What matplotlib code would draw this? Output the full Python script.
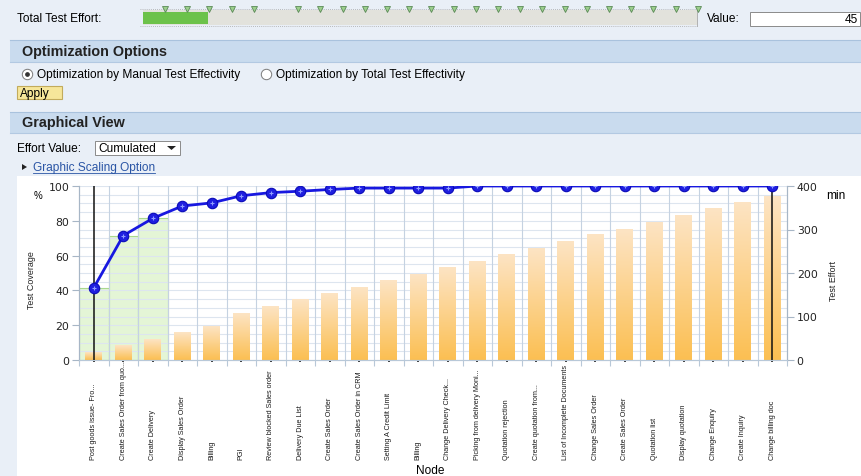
import numpy as np
import matplotlib
matplotlib.use('Agg')
import matplotlib.pyplot as plt
from matplotlib.patches import Rectangle, Polygon
from matplotlib.lines import Line2D
from matplotlib.colors import LinearSegmentedColormap

# chart data
nodes = ['Post goods issue- Fro...', 'Create Sales Order from quo...', 'Create Delivery',
         'Display Sales Order', 'Billing', 'PGI', 'Review blocked Sales order',
         'Delivery Due List', 'Create Sales Order', 'Create Sales Order in CRM',
         'Setting A Credit Limit', 'Billing', 'Change Delivery Check...',
         'Picking from delivery Moni...', 'Quotation rejection', 'Create quotation from...',
         'List of Incomplete Documents', 'Change Sales Order', 'Create Sales Order',
         'Quotation list', 'Display quotation', 'Change Enquiry', 'Create Inquiry',
         'Change billing doc']
coverage = [41.5, 71.5, 81.4, 88.5, 90.3, 94.4, 96.2, 97.0, 98.0, 98.8, 98.8, 98.8,
            98.8, 100, 100, 100, 100, 100, 100, 100, 100, 100, 100, 100]
effort = [17, 33, 48, 64, 77, 108, 124, 138, 152, 167, 182, 197, 213, 227, 242, 257,
          273, 288, 300, 317, 332, 348, 362, 376]
n_selected = 3          # nodes inside the green (selected) range
marked = [0, 23]        # nodes with black marker lines
effort_value = '45'

W, H = 861, 477
def fx(x):
    return x / W
def fy(y):
    return 1 - y / H

UI = ['Liberation Sans', 'DejaVu Sans']
FS = 8.6

fig = plt.figure(figsize=(W / 100, H / 100), dpi=100, facecolor='#e9eff7')

# chart panel (behind the axes)
fig.add_artist(Rectangle((fx(17), 0), 1 - fx(17), fy(177), transform=fig.transFigure,
                         fc='white', ec='none', zorder=-10))

# ---- header: slider row
fig.text(fx(17), fy(19), 'Total Test Effort:', fontsize=FS, family=UI, va='center')
fig.add_artist(Rectangle((fx(143), fy(26)), fx(697) - fx(143), fy(11) - fy(26),
                         transform=fig.transFigure, fc='#e2e2dc', ec='none'))
fig.add_artist(Rectangle((fx(143), fy(25)), fx(208) - fx(143), fy(13) - fy(25),
                         transform=fig.transFigure, fc='#6cc24a', ec='none'))
for yy in (10, 27):
    fig.add_artist(Line2D([fx(140), fx(697)], [fy(yy), fy(yy)], transform=fig.transFigure,
                          color='#a8a8a8', lw=0.6, ls=(0, (1, 1.5))))
fig.add_artist(Line2D([fx(697), fx(697)], [fy(10), fy(27)], transform=fig.transFigure,
                      color='#a8a8a8', lw=0.6))
stops = [x for x in np.arange(165, 700, 22.2) if abs(x - 276) > 5]
fig.add_artist(Line2D([fx(x) for x in stops], [fy(10)] * len(stops),
                      transform=fig.transFigure, ls='', marker='v', ms=4,
                      mfc='#9ccf8c', mec='#5b8a58', mew=0.6))
fig.text(fx(707), fy(19), 'Value:', fontsize=FS, family=UI, va='center')
fig.add_artist(Rectangle((fx(750), fy(27)), fx(860) - fx(750), fy(13) - fy(27),
                         transform=fig.transFigure, fc='white', ec='#8a8a8a', lw=0.7))
fig.text(fx(858), fy(20), effort_value, fontsize=FS, family=UI, va='center', ha='right')

# ---- section bars
for top, bot, title in [(41, 63, 'Optimization Options'), (113, 134, 'Graphical View')]:
    fig.add_artist(Rectangle((fx(10), fy(bot)), 1 - fx(10), fy(top) - fy(bot),
                             transform=fig.transFigure, fc='#c9dbee', ec='none'))
    for yy, c in [(top, '#a9c2dd'), (bot, '#b3c9e2')]:
        fig.add_artist(Line2D([fx(10), 1], [fy(yy), fy(yy)], transform=fig.transFigure,
                              color=c, lw=0.8))
    fig.text(fx(22), fy((top + bot) / 2), title, fontsize=10.4, family=UI,
             fontweight='bold', va='center', color='#222222')

# radio buttons
for cx, label, sel in [(27, 'Optimization by Manual Test Effectivity', True),
                       (266, 'Optimization by Total Test Effectivity', False)]:
    fig.add_artist(Line2D([fx(cx)], [fy(75)], transform=fig.transFigure, ls='',
                          marker='o', ms=7.5, mfc='white', mec='#7a7a7a', mew=0.7))
    if sel:
        fig.add_artist(Line2D([fx(cx)], [fy(75)], transform=fig.transFigure, ls='',
                              marker='o', ms=2.4, mfc='#333333', mec='#333333'))
    fig.text(fx(cx + 10), fy(75), label, fontsize=FS, family=UI, va='center')

fig.add_artist(Rectangle((fx(17), fy(100)), fx(62) - fx(17), fy(87) - fy(100),
                         transform=fig.transFigure, fc='#f6e69a', ec='#c2ab5c', lw=0.8))
fig.text(fx(20), fy(93.5), 'Apply', fontsize=FS, family=UI, va='center')

fig.text(fx(17), fy(149), 'Effort Value:', fontsize=FS, family=UI, va='center')
fig.add_artist(Rectangle((fx(95), fy(156)), fx(180) - fx(95), fy(142) - fy(156),
                         transform=fig.transFigure, fc='white', ec='#8a8a8a', lw=0.7))
fig.text(fx(98), fy(149), 'Cumulated', fontsize=FS, family=UI, va='center')
fig.add_artist(Polygon([(fx(167), fy(147)), (fx(176), fy(147)), (fx(171.5), fy(151))],
                       transform=fig.transFigure, fc='#222222', ec='none'))
fig.add_artist(Polygon([(fx(22), fy(165)), (fx(22), fy(171)), (fx(27), fy(168))],
                       transform=fig.transFigure, fc='#222222', ec='none'))
fig.text(fx(33), fy(168), 'Graphic Scaling Option', fontsize=FS, family=UI, va='center',
         color='#2a55a5')
fig.add_artist(Line2D([fx(33), fx(155)], [fy(173.5), fy(173.5)], transform=fig.transFigure,
                      color='#2a55a5', lw=0.6))

# ---- chart
x = np.arange(len(nodes))
ax = fig.add_axes([fx(79), fy(361), fx(787) - fx(79), fy(187) - fy(361)])  # effort (right)
axc = ax.twinx()                                                         # coverage (left)
ax.yaxis.tick_right()
ax.yaxis.set_label_position('right')
axc.yaxis.tick_left()
ax.set_facecolor('white')

ax.set_xlim(-0.5, len(nodes) - 0.5)
ax.set_ylim(0, 400)
axc.set_ylim(0, 100)

# grid
for yy in np.arange(20, 401, 20):
    ax.axhline(yy, color='#dde5ef', lw=0.8, zorder=0.8)
for b in np.arange(0.5, len(nodes) - 0.5, 1):
    ax.axvline(b, color='#c5d2e1', lw=0.8, zorder=0.9)

# selected range (green), drawn in coverage units underneath the bars
ax.bar(x[:n_selected], coverage[:n_selected], width=1.0, color='#e4f5d6',
       edgecolor='#a9d98f', lw=0.8, zorder=0.7, transform=axc.transData)

# gradient bars
cmap = LinearSegmentedColormap.from_list('bar', ['#fbbf52', '#fde4c4'])
grad = np.linspace(0, 1, 256).reshape(-1, 1)
bars = ax.bar(x, effort, width=0.57, color='none', zorder=2)
for bar in bars:
    x0, w, h = bar.get_x(), bar.get_width(), bar.get_height()
    ax.imshow(grad, extent=[x0, x0 + w, 0, h], origin='lower', cmap=cmap,
              aspect='auto', zorder=2)
ax.set_xlim(-0.5, len(nodes) - 0.5)
ax.set_ylim(0, 400)

# marker lines and coverage line
for m in marked:
    axc.axvline(m, color='#111111', lw=1.1, zorder=3)
axc.plot(x, coverage, color='#1818e0', lw=2, marker='o', ms=7.5, mfc='#1f1fe0',
         mec='#0a0ab8', mew=0.8, zorder=4)
axc.plot(x, coverage, ls='', marker='+', ms=3.5, color='#8f9cff', mew=0.8, zorder=5)

# axes styling
for a in (ax, axc):
    a.spines['top'].set_visible(False)
    a.spines['left'].set_color('#a7b6c6')
    a.spines['right'].set_color('#a7b6c6')
    a.spines['bottom'].set_color('#b8c8d8')
axc.set_yticks(np.arange(0, 101, 20))
ax.set_yticks(np.arange(0, 401, 100))
axc.tick_params(axis='y', length=5, width=0.8, color='#a7b6c6', pad=2, labelsize=7.8,
                labelcolor='#222222')
ax.tick_params(axis='y', length=5, width=0.8, color='#a7b6c6', pad=2, labelsize=7.8,
               labelcolor='#222222')
for lbl in ax.get_yticklabels() + axc.get_yticklabels():
    lbl.set_family(['DejaVu Sans'])

ax.set_xticks(x)
ax.set_xticks(np.arange(-0.5, len(nodes), 1), minor=True)
ax.set_xticklabels(nodes, rotation=90, fontsize=5.2, family=UI, color='#1a1a1a')
for lbl in ax.get_xticklabels():
    lbl.set_va('bottom')
ax.tick_params(axis='x', which='major', length=3, width=1.2, color='#111111',
               direction='inout', pad=70)
ax.tick_params(axis='x', which='minor', length=4, width=0.8, color='#b8c8d8')

fig.text(fx(32), fy(280), 'Test Coverage', rotation=90, fontsize=6.4, family=UI,
         ha='center', va='center', color='#222222')
fig.text(fx(38), fy(196), '%', fontsize=7, family=UI, ha='center', va='center')
fig.text(fx(834), fy(281), 'Test Effort', rotation=90, fontsize=6.4, family=UI,
         ha='center', va='center', color='#222222')
fig.text(fx(836), fy(196), 'min', fontsize=FS, family=UI, ha='center', va='center')
fig.text(fx(430), fy(471), 'Node', fontsize=FS, family=UI, ha='center', va='center')

fig.savefig('out.png', dpi=100, facecolor=fig.get_facecolor())
